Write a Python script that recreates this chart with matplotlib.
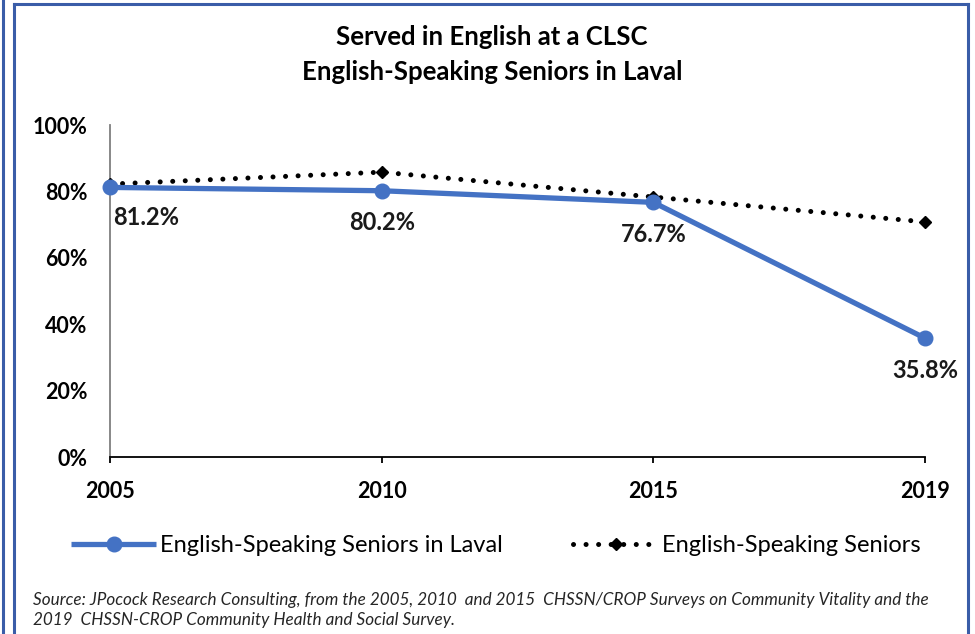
import matplotlib
matplotlib.use("Agg")
import matplotlib.pyplot as plt
from matplotlib.lines import Line2D

years = ["2005", "2010", "2015", "2019"]
laval = [81.2, 80.2, 76.7, 35.8]
seniors = [82.2, 85.8, 78.3, 70.8]
yticks = [0, 20, 40, 60, 80, 100]
title_lines = ["Served in English at a CLSC", "English-Speaking Seniors in Laval"]
legend_labels = ["English-Speaking Seniors in Laval", "English-Speaking Seniors"]
source = ("Source: JPocock Research Consulting, from the 2005, 2010  and 2015  CHSSN/CROP Surveys on Community Vitality and the\n"
          "2019  CHSSN-CROP Community Health and Social Survey.")

plt.rcParams['font.family'] = ['Lato', 'DejaVu Sans']

W, H = 975, 634
fig = plt.figure(figsize=(W/100, H/100), dpi=100)
ax = fig.add_axes([110/W, 1-457/H, (925-110)/W, (457-125)/H])

x = list(range(len(years)))
blue = "#4472C4"
l2, = ax.plot(x, seniors, color="black", lw=3.6, linestyle=(0, (0.01, 2.5)),
              dash_capstyle="round", marker="D", markersize=6.5, zorder=3, clip_on=False)
l1, = ax.plot(x, laval, color=blue, lw=3.8, marker="o", markersize=10.5,
              solid_capstyle="butt", zorder=4, clip_on=False)

offsets = [(26, -22), (0, -23), (0, -23), (0, -23)]
for i, v in enumerate(laval):
    ax.annotate(f"{v:.1f}%", (x[i], v), xytext=offsets[i], textcoords="offset points",
                ha="center", va="center", fontsize=17, fontweight="bold", color="#1a1a1a")

ax.set_xlim(0, len(years)-1)
ax.set_ylim(0, 100)
ax.set_xticks(x)
ax.set_xticklabels(years, fontsize=15.5, fontweight="bold")
ax.set_yticks(yticks)
ax.set_yticklabels([f"{t}%" for t in yticks], fontsize=15.5, fontweight="bold")
ax.tick_params(axis="x", direction="out", length=4.5, width=1.3, pad=13, color="black")
ax.tick_params(axis="y", length=0, pad=16)
for s in ["top", "right"]:
    ax.spines[s].set_visible(False)
ax.spines["left"].set_color("#7f7f7f")
ax.spines["left"].set_linewidth(1.3)
ax.spines["bottom"].set_color("black")
ax.spines["bottom"].set_linewidth(1.3)

fig.text(492/W, 1-37/H, title_lines[0], ha="center", va="center", fontsize=18.5, fontweight="bold")
fig.text(492/W, 1-72/H, title_lines[1], ha="center", va="center", fontsize=18.5, fontweight="bold")

fig.legend([l1, l2], legend_labels, loc="center", bbox_to_anchor=(496/W, 1-546/H), ncol=2,
           frameon=False, fontsize=17, handlelength=3.6, columnspacing=3.0, handletextpad=0.15)

fig.text(33/W, 1-610/H, source, ha="left", va="center", fontsize=12.3, style="italic",
         color="#262626", linespacing=1.35)

bc = "#3A5DA8"
fig.add_artist(Line2D([2.5/W, 2.5/W], [0, 1], transform=fig.transFigure, color=bc, lw=2.2))
fig.add_artist(Line2D([14/W, 14/W], [0, 1-4/H], transform=fig.transFigure, color=bc, lw=2.2))
fig.add_artist(Line2D([14/W, 968/W], [1-4/H, 1-4/H], transform=fig.transFigure, color=bc, lw=2.2))
fig.add_artist(Line2D([967.5/W, 967.5/W], [0, 1-4/H], transform=fig.transFigure, color=bc, lw=2.2))

fig.savefig("out.png", dpi=100)
